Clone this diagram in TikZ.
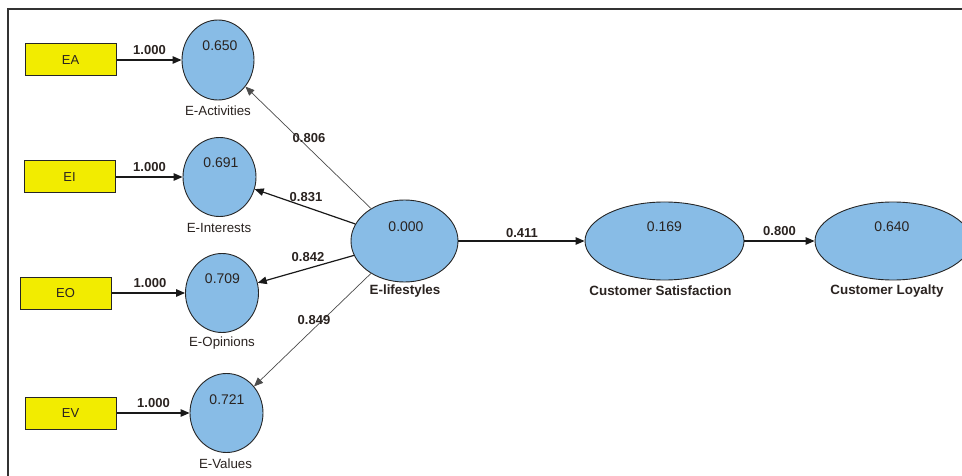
\documentclass[tikz,border=0pt]{standalone}
\usepackage{fontspec}
\setmainfont{Liberation Sans}
\usetikzlibrary{shapes.geometric,arrows.meta}
\definecolor{lvblue}{HTML}{88BCE6}
\definecolor{mvyellow}{HTML}{F2EC00}
\definecolor{framegray}{HTML}{333333}
\definecolor{txt}{HTML}{2A2320}
\tikzset{
  lv/.style={ellipse, draw=black!85, line width=0.9pt, fill=lvblue, inner sep=0pt},
  mv/.style={rectangle, draw=black!85, line width=1pt, fill=mvyellow, minimum width=91pt, minimum height=32pt, inner sep=0pt, text=txt, font=\fontsize{13}{15}\selectfont},
  val/.style={font=\fontsize{14}{16}\selectfont, text=txt, inner sep=0pt},
  nm/.style={font=\fontsize{13.3}{15}\selectfont, text=txt, inner sep=0pt},
  nmb/.style={font=\bfseries\fontsize{13.4}{15}\selectfont, text=txt, inner sep=0pt},
  coef/.style={font=\bfseries\fontsize{13}{15}\selectfont, text=txt, inner sep=0pt},
  arr/.style={line width=1.2pt, draw=black!90, -{Triangle[length=9pt,width=7.5pt]}},
  arrthin/.style={line width=0.7pt, draw=black!70, -{Triangle[length=9pt,width=7.5pt]}},
}
\begin{document}
\begin{tikzpicture}[x=1pt,y=-1pt]
\clip (0,0) rectangle (962,476);
\fill[white] (0,0) rectangle (962,476);
% frame
\draw[framegray, line width=1.3pt] (8,476) -- (8,9) -- (962,9);

% indicators
\node[mv] (ea) at (70.5,60) {EA};
\node[mv] (ei) at (69.5,177) {EI};
\node[mv] (eo) at (65.5,293) {EO};
\node[mv] (ev) at (70.5,413) {EV};

% latent variables
\node[lv, minimum width=72pt, minimum height=80pt] (act) at (218,60) {};
\node[lv, minimum width=73pt, minimum height=79pt] (int) at (219.5,177) {};
\node[lv, minimum width=73pt, minimum height=79pt] (opi) at (222,293) {};
\node[lv, minimum width=73pt, minimum height=79pt] (val) at (226.5,413) {};
\node[lv, minimum width=107pt, minimum height=82pt] (els) at (404.5,241) {};
\node[lv, minimum width=159pt, minimum height=78pt] (cs) at (664.5,241) {};
\node[lv, minimum width=156pt, minimum height=78pt] (cl) at (893,241) {};

% values
\node[val] (vact) at (220,46) {0.650};
\node[val] (vint) at (221,163) {0.691};
\node[val] (vopi) at (222.5,279) {0.709};
\node[val] (vval) at (227,400) {0.721};
\node[val] (vels) at (406,227) {0.000};
\node[val] (vcs) at (664.5,227) {0.169};
\node[val] (vcl) at (892,227) {0.640};

% names
\node[nm] (nact) at (218,111) {E-Activities};
\node[nm] (nint) at (219,228) {E-Interests};
\node[nm] (nopi) at (222,343) {E-Opinions};
\node[nm] (nval) at (225.5,464) {E-Values};
\node[nmb] (nels) at (405,291) {E-lifestyles};
\node[nmb] (ncs) at (660.5,291) {Customer Satisfaction};
\node[nmb] (ncl) at (887,291) {Customer Loyalty};

% connectors
\draw[arr] (ea) -- (act);
\draw[arr] (ei) -- (int);
\draw[arr] (eo) -- (opi);
\draw[arr] (ev) -- (val);
\draw[arrthin] (els) -- (act);
\draw[arr] (els) -- (int);
\draw[arr] (els) -- (opi);
\draw[arrthin] (els) -- (val);
\draw[arr] (els) -- (cs);
\draw[arr] (cs) -- (cl);

% coefficients
\node[coef] (c1) at (149.5,50) {1.000};
\node[coef] (c2) at (149.5,167) {1.000};
\node[coef] (c3) at (150,283) {1.000};
\node[coef] (c4) at (153.5,403) {1.000};
\node[coef] (c5) at (309,138) {0.806};
\node[coef] (c6) at (306,197) {0.831};
\node[coef] (c7) at (308,257) {0.842};
\node[coef] (c8) at (314,320) {0.849};
\node[coef] (c9) at (522,233) {0.411};
\node[coef] (c10) at (779.5,231) {0.800};
\end{tikzpicture}
\end{document}
